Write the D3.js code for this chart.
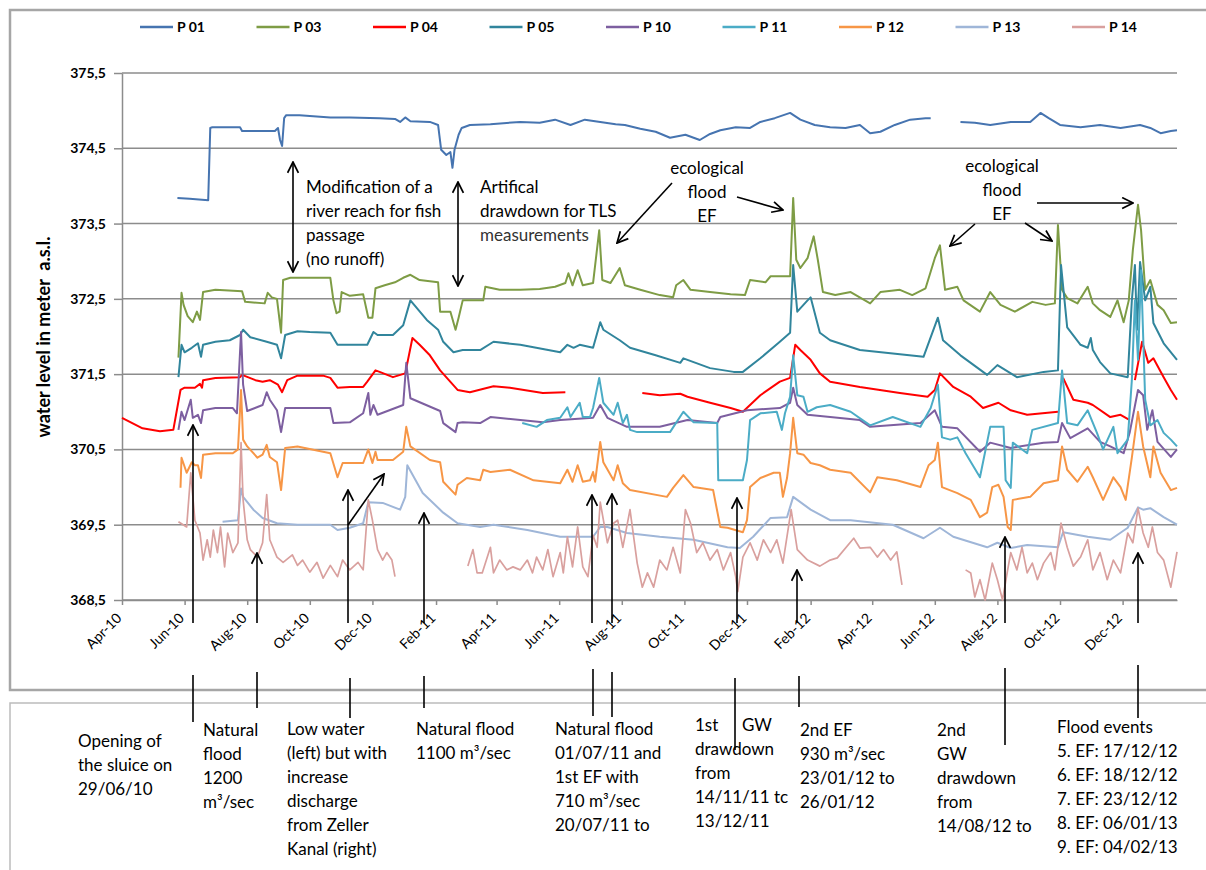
<!DOCTYPE html>
<html lang="en">
<head>
<meta charset="utf-8">
<title>Water level P 01 - P 14</title>
<script src="https://cdnjs.cloudflare.com/ajax/libs/d3/7.8.5/d3.min.js"></script>
<style>
  body { margin: 0; background: #fff; }
  svg { display: block; font-family: Lato, "Open Sans", sans-serif; }
</style>
</head>
<body>
<svg id="chart"></svg>
<script>

// ---- data: [days since 1 Apr 2010, water level m a.s.l.], null = no record
var P01 = [[54,373.84],[66,373.83],[84,373.81],[86,374.77],[88,374.78],[115,374.78],[117,374.73],[149,374.73],[152,374.77],[154,374.61],[156,374.53],[158,374.90],[160,374.94],[173,374.94],[203,374.91],[222,374.91],[251,374.90],[266,374.89],[271,374.85],[276,374.91],[281,374.86],[300,374.85],[308,374.81],[311,374.48],[316,374.41],[320,374.45],[322,374.24],[324,374.48],[328,374.68],[331,374.77],[339,374.81],[359,374.82],[388,374.85],[407,374.84],[422,374.88],[437,374.81],[451,374.88],[466,374.85],[481,374.82],[490,374.81],[505,374.76],[520,374.72],[534,374.64],[549,374.68],[563,374.61],[573,374.69],[583,374.74],[598,374.78],[612,374.77],[622,374.85],[636,374.90],[651,374.97],[661,374.88],[675,374.81],[690,374.78],[705,374.77],[719,374.81],[729,374.70],[739,374.72],[753,374.81],[768,374.88],[783,374.90],[788,374.90],[800,null],[817,374.85],[831,374.84],[846,374.81],[866,374.85],[885,374.85],[895,374.97],[903,374.90],[914,374.81],[934,374.78],[953,374.81],[973,374.77],[992,374.81],[1002,374.77],[1012,374.70],[1022,374.73],[1028,374.74]];

var P03 = [[55,371.72],[58,372.58],[60,372.42],[64,372.27],[69,372.19],[73,372.33],[76,372.22],[79,372.59],[91,372.62],[117,372.60],[120,372.46],[139,372.44],[142,372.58],[146,372.52],[151,372.50],[155,372.05],[157,372.75],[164,372.78],[203,372.78],[206,372.48],[209,372.31],[212,372.33],[214,372.59],[222,372.54],[235,372.56],[240,372.25],[244,372.25],[247,372.64],[256,372.68],[266,372.72],[274,372.78],[281,372.82],[290,372.75],[308,372.72],[310,372.33],[320,372.33],[325,372.09],[328,372.25],[332,372.48],[352,372.48],[354,372.66],[368,372.62],[388,372.62],[407,372.63],[422,372.66],[432,372.71],[435,372.84],[439,372.68],[444,372.88],[449,372.68],[459,372.71],[465,373.41],[468,372.75],[476,372.71],[485,372.91],[490,372.68],[505,372.62],[524,372.55],[537,372.52],[540,372.68],[547,372.75],[554,372.62],[573,372.59],[593,372.56],[607,372.55],[612,372.75],[627,372.72],[632,372.80],[651,372.80],[654,373.84],[657,373.02],[661,372.91],[668,373.04],[674,373.33],[678,373.02],[683,372.59],[695,372.55],[710,372.59],[729,372.44],[739,372.59],[758,372.62],[770,372.55],[783,372.64],[792,373.04],[797,373.21],[802,372.62],[814,372.66],[820,372.48],[836,372.33],[846,372.59],[856,372.42],[870,372.33],[887,372.46],[900,372.42],[909,372.44],[912,373.48],[916,372.62],[921,372.51],[931,372.44],[941,372.66],[946,372.44],[953,372.35],[963,372.26],[970,372.48],[976,372.19],[981,372.48],[985,373.15],[990,373.75],[993,373.41],[997,372.62],[1002,372.75],[1009,372.42],[1015,372.35],[1022,372.18],[1028,372.19]];

var P04 = [[0,370.92],[20,370.78],[37,370.74],[50,370.76],[57,371.29],[61,371.32],[71,371.32],[76,371.37],[78,371.32],[79,371.42],[91,371.45],[115,371.46],[117,371.49],[130,371.42],[137,371.40],[144,371.42],[152,371.36],[156,371.26],[161,371.42],[171,371.48],[196,371.48],[203,371.45],[210,371.32],[222,371.33],[235,371.33],[239,371.40],[247,371.55],[251,371.53],[264,371.46],[276,371.51],[283,371.98],[290,371.89],[300,371.75],[310,371.55],[327,371.29],[339,371.26],[362,371.34],[378,371.32],[410,371.25],[432,371.26],[470,null],[507,371.25],[524,371.22],[544,371.24],[551,371.20],[573,371.12],[593,371.05],[605,371.00],[622,371.22],[641,371.40],[651,371.45],[656,371.89],[661,371.82],[671,371.69],[680,371.51],[690,371.40],[719,371.33],[758,371.25],[785,371.20],[792,371.29],[797,371.51],[810,371.33],[827,371.20],[839,371.05],[854,371.12],[866,371.02],[882,370.96],[912,371.00],[914,null],[917,371.45],[927,371.16],[941,371.12],[946,371.09],[963,370.93],[973,370.96],[982,370.89],[984,null],[987,371.42],[994,371.93],[1000,371.65],[1005,371.71],[1015,371.46],[1022,371.29],[1028,371.16]];

var P05 = [[55,371.46],[58,371.89],[61,371.79],[68,371.85],[74,371.91],[77,371.73],[79,371.89],[91,371.93],[105,371.95],[115,372.02],[118,372.09],[125,371.99],[141,371.93],[151,371.89],[155,371.71],[159,372.02],[171,372.07],[183,372.06],[203,372.05],[210,371.89],[222,371.89],[239,371.89],[245,372.06],[249,372.02],[264,372.02],[274,372.15],[281,372.48],[297,372.22],[308,372.09],[313,371.93],[323,371.79],[332,371.82],[349,371.82],[362,371.93],[388,371.89],[427,371.79],[434,371.89],[440,371.85],[446,371.89],[459,371.85],[466,372.19],[469,372.09],[485,371.95],[495,371.85],[520,371.75],[544,371.65],[547,371.71],[573,371.58],[596,371.53],[605,371.53],[622,371.71],[641,371.93],[651,372.05],[654,372.95],[658,372.33],[668,372.48],[671,372.52],[680,372.05],[690,371.95],[719,371.82],[781,371.73],[795,372.25],[800,371.95],[817,371.75],[843,371.49],[853,371.62],[872,371.46],[898,371.53],[912,371.55],[915,372.95],[921,372.12],[934,371.89],[941,371.85],[944,371.98],[946,371.82],[953,371.66],[963,371.51],[980,371.46],[984,372.48],[987,372.95],[989,372.09],[992,372.99],[997,372.48],[1002,372.66],[1005,372.18],[1015,371.91],[1028,371.69]];

var P10 = [[55,370.76],[58,371.00],[61,370.89],[67,371.16],[69,370.92],[74,370.96],[77,370.85],[79,371.02],[91,371.05],[108,371.05],[112,370.98],[116,372.06],[118,371.36],[122,371.01],[137,371.09],[141,371.26],[144,371.16],[151,371.02],[155,370.73],[159,371.05],[171,371.05],[203,371.05],[206,370.85],[222,370.86],[235,370.98],[240,371.25],[242,370.96],[245,371.09],[249,370.96],[274,371.09],[277,371.65],[281,371.18],[310,371.01],[313,370.85],[325,370.73],[327,370.85],[332,370.86],[349,370.85],[359,370.93],[410,370.86],[427,370.89],[459,370.92],[466,371.09],[473,370.92],[492,370.80],[524,370.80],[551,370.89],[580,370.85],[583,370.93],[609,371.02],[641,371.05],[651,371.12],[654,371.32],[658,371.09],[668,370.96],[690,370.93],[719,370.89],[729,370.80],[778,370.85],[792,371.02],[799,370.80],[814,370.78],[836,370.47],[846,370.59],[866,370.52],[898,370.59],[912,370.60],[916,370.85],[924,370.65],[941,370.78],[953,370.60],[963,370.54],[976,370.45],[982,370.73],[990,371.29],[995,371.22],[999,370.76],[1004,371.02],[1009,370.60],[1022,370.40],[1028,370.50]];

var P11 = [[390,370.85],[404,370.80],[414,370.89],[427,370.92],[434,371.06],[437,370.93],[446,371.12],[449,370.93],[456,370.93],[459,371.05],[465,371.45],[469,371.12],[479,370.96],[483,371.12],[488,370.85],[492,370.96],[495,370.76],[502,370.73],[534,370.73],[547,371.00],[557,370.86],[580,370.85],[581,370.09],[583,370.09],[605,370.09],[609,370.36],[612,370.89],[622,370.98],[638,371.00],[643,370.76],[646,370.98],[651,371.20],[654,371.75],[658,371.22],[664,371.20],[668,371.00],[677,371.06],[690,371.09],[710,371.00],[729,370.82],[751,370.93],[778,370.80],[788,371.05],[795,371.36],[799,370.66],[807,370.63],[814,370.66],[822,370.45],[836,370.13],[846,370.80],[859,370.80],[861,370.09],[866,369.99],[868,370.59],[882,370.45],[887,370.76],[912,370.85],[916,371.55],[921,370.85],[931,370.82],[941,371.02],[950,370.72],[956,370.50],[966,370.80],[970,370.45],[980,370.63],[984,371.42],[987,372.48],[990,371.69],[993,372.88],[997,371.16],[1002,370.82],[1009,370.89],[1015,370.72],[1022,370.63],[1028,370.54]];

var P12 = [[57,369.99],[58,370.39],[63,370.19],[68,370.33],[71,370.29],[74,370.29],[77,370.12],[79,370.43],[91,370.45],[108,370.45],[113,370.50],[116,371.29],[118,370.63],[122,370.54],[132,370.39],[137,370.43],[141,370.56],[144,370.40],[151,370.33],[155,369.96],[159,370.52],[171,370.54],[203,370.45],[210,370.13],[215,370.32],[235,370.32],[240,370.50],[244,370.32],[247,370.47],[249,370.36],[264,370.36],[274,370.47],[277,370.80],[281,370.54],[300,370.36],[310,370.33],[313,370.07],[325,369.90],[327,370.03],[336,370.12],[349,370.09],[352,370.23],[359,370.20],[378,370.23],[401,370.09],[427,370.05],[434,370.23],[439,370.07],[444,370.29],[449,370.07],[456,370.09],[459,370.20],[461,370.07],[466,370.60],[469,370.33],[479,370.09],[483,370.29],[488,370.05],[495,369.96],[531,369.87],[537,369.99],[547,370.16],[557,370.00],[576,369.96],[583,369.47],[590,369.46],[605,369.40],[609,369.56],[612,370.00],[622,370.12],[635,370.19],[641,370.19],[644,369.87],[648,370.12],[651,370.45],[654,370.92],[658,370.45],[664,370.43],[671,370.32],[680,370.29],[690,370.23],[710,370.19],[729,369.93],[736,370.13],[755,370.09],[778,370.00],[786,370.29],[792,370.36],[795,370.59],[799,370.00],[814,369.92],[827,369.83],[836,369.60],[843,369.66],[848,370.00],[854,370.03],[859,369.87],[863,369.47],[866,369.43],[868,369.83],[885,369.87],[898,370.05],[912,370.09],[916,370.54],[921,370.23],[931,370.07],[941,370.27],[946,370.13],[956,369.83],[966,370.13],[973,370.00],[978,369.83],[984,370.39],[990,371.00],[995,370.54],[1002,370.13],[1005,370.54],[1012,370.19],[1022,369.96],[1028,369.99]];

var P13 = [[98,369.54],[113,369.56],[116,369.98],[118,369.87],[128,369.70],[137,369.59],[151,369.52],[171,369.50],[203,369.50],[210,369.43],[222,369.46],[235,369.52],[240,369.80],[254,369.79],[271,369.70],[276,369.87],[278,370.29],[293,369.92],[313,369.66],[327,369.52],[349,369.47],[362,369.50],[395,369.43],[427,369.34],[459,369.34],[466,369.47],[473,369.47],[492,369.39],[524,369.34],[557,369.30],[590,369.20],[602,369.19],[615,369.34],[632,369.59],[648,369.60],[654,369.87],[671,369.70],[690,369.56],[710,369.56],[751,369.50],[781,369.32],[797,369.46],[810,369.34],[843,369.20],[853,369.26],[866,369.19],[882,369.23],[912,369.20],[917,369.40],[941,369.34],[963,369.30],[980,369.46],[990,369.73],[995,369.70],[1002,369.72],[1015,369.60],[1028,369.50]];

var P14 = [[55,369.54],[63,369.47],[67,370.19],[71,369.56],[76,369.39],[79,369.03],[83,369.30],[86,369.07],[89,369.43],[93,369.13],[96,369.47],[100,368.94],[103,369.39],[108,369.13],[113,369.26],[116,370.59],[118,369.83],[122,369.30],[125,369.17],[132,369.07],[137,369.26],[141,369.90],[144,369.30],[151,369.07],[157,369.00],[166,369.10],[171,368.96],[176,369.03],[183,368.87],[190,369.00],[196,368.79],[203,368.96],[210,368.81],[215,369.03],[222,368.90],[230,369.00],[235,368.90],[240,369.83],[244,369.56],[249,369.17],[254,369.03],[258,369.13],[263,369.03],[266,368.81],[300,null],[337,368.95],[342,369.17],[346,368.86],[351,368.86],[359,369.20],[362,368.86],[368,369.03],[375,368.90],[381,368.94],[388,368.90],[395,369.03],[400,368.86],[404,369.07],[410,368.90],[415,369.17],[420,368.81],[427,369.13],[430,368.86],[434,369.34],[439,368.94],[444,369.47],[449,368.94],[454,368.81],[459,369.36],[463,369.20],[466,369.80],[473,369.26],[479,369.52],[483,369.56],[488,369.20],[495,369.70],[502,368.99],[507,368.67],[512,368.86],[518,368.67],[524,369.03],[531,368.90],[537,369.20],[544,368.86],[549,369.70],[554,369.52],[560,369.13],[566,369.26],[573,369.03],[580,369.17],[586,368.90],[593,369.13],[598,368.81],[600,368.61],[605,369.07],[612,369.26],[619,369.03],[625,369.30],[632,369.13],[638,369.30],[644,368.99],[652,369.70],[658,369.17],[668,369.03],[680,368.95],[690,369.03],[697,369.06],[713,369.32],[719,369.19],[729,369.20],[736,369.07],[742,369.17],[749,369.03],[755,369.14],[760,368.70],[790,null],[822,368.90],[827,368.86],[831,368.54],[836,368.77],[841,368.50],[848,368.99],[853,368.77],[858,368.50],[863,368.90],[866,369.13],[872,368.90],[877,369.20],[882,368.86],[887,368.99],[892,368.77],[898,368.99],[905,369.13],[909,368.90],[915,369.52],[921,369.20],[927,368.95],[934,369.07],[941,369.30],[946,368.90],[953,369.13],[960,368.77],[966,369.03],[973,368.86],[980,369.39],[985,369.26],[990,369.72],[995,369.39],[1000,369.20],[1004,369.47],[1009,369.13],[1015,369.03],[1022,368.67],[1028,369.14]];

var SERIES_NAMES = ["P 01", "P 03", "P 04", "P 05", "P 10", "P 11", "P 12", "P 13", "P 14"];
var SERIES_DATA = [P01, P03, P04, P05, P10, P11, P12, P13, P14];
var COLORS = ["#4674b0", "#7e9c45", "#ff0000", "#31859c", "#7d5fa0", "#4bacc6", "#f79646", "#9fb6d8", "#d9a09e"];
var Y_TICKS = [368.5, 369.5, 370.5, 371.5, 372.5, 373.5, 374.5, 375.5];
var END_DAY = 1028;

// annotation texts
var NOTE_FISH = ["Modification of a", "river reach for fish", "passage", "(no runoff)"];
var NOTE_TLS = ["Artifical", "drawdown for TLS", "measurements"];
var NOTE_EF = ["ecological", "flood", "EF"];
var BOTTOM_NOTES = [
  ["Opening of", "the sluice on", "29/06/10"],
  ["Natural", "flood", "1200", "m³/sec"],
  ["Low water", "(left) but with", "increase", "discharge", "from Zeller", "Kanal (right)"],
  ["Natural flood", "1100 m³/sec"],
  ["Natural flood", "01/07/11 and", "1st EF with", "710 m³/sec", "20/07/11 to"],
  ["1st", "drawdown", "from", "14/11/11 tc", "13/12/11"],
  ["2nd EF", "930 m³/sec", "23/01/12 to", "26/01/12"],
  ["2nd", "GW", "drawdown", "from", "14/08/12 to"],
  ["Flood events", "5. EF: 17/12/12", "6. EF: 18/12/12", "7. EF: 23/12/12", "8. EF: 06/01/13", "9. EF: 04/02/13"]
];

// ---- layout
var width = 1206, height = 870;
var plotL = 122, plotR = 1177, plotT = 73, plotB = 600;
var START = new Date(2010, 3, 1);
function toDate(day) { return d3.timeDay.offset(START, day); }

var svg = d3.select("#chart").attr("width", width).attr("height", height);

var x = d3.scaleTime().domain([START, toDate(END_DAY)]).range([plotL, plotR]);
var y = d3.scaleLinear().domain([368.5, 375.5]).range([plotB, plotT]);

// frames
svg.append("rect").attr("x", 10).attr("y", 10).attr("width", 1210).attr("height", 680)
  .attr("fill", "none").attr("stroke", "#a6a6a6").attr("stroke-width", 2.5);
svg.append("path").attr("d", "M10,870 V703 H1206")
  .attr("fill", "none").attr("stroke", "#bcbcbc").attr("stroke-width", 1.5);

// gridlines
svg.append("g").selectAll("line").data(Y_TICKS).enter().append("line")
  .attr("x1", plotL).attr("x2", plotR)
  .attr("y1", function(d) { return y(d); }).attr("y2", function(d) { return y(d); })
  .attr("stroke", "#8c8c8c").attr("stroke-width", 1.5);

// y axis
var yAxis = svg.append("g").attr("transform", "translate(" + plotL + ",0)")
  .call(d3.axisLeft(y).tickValues(Y_TICKS).tickSize(8).tickSizeOuter(0)
    .tickFormat(function(d) { return d3.format(".1f")(d).replace(".", ","); }));
yAxis.selectAll("path, line").attr("stroke", "#8c8c8c").attr("stroke-width", 1.5);
yAxis.selectAll("text").attr("font-size", 14).attr("font-weight", "bold").attr("fill", "#000")
  .attr("font-family", "Lato, sans-serif").attr("dx", -5);

// x axis
var xTicks = d3.timeMonth.range(START, toDate(END_DAY), 2);
var xAxis = svg.append("g").attr("transform", "translate(0," + plotB + ")")
  .call(d3.axisBottom(x).tickValues(xTicks).tickSize(5).tickSizeOuter(0)
    .tickFormat(d3.timeFormat("%b-%y")));
xAxis.selectAll("path, line").attr("stroke", "#8c8c8c").attr("stroke-width", 1.5);
xAxis.selectAll("text").attr("font-size", 14).attr("fill", "#000")
  .attr("font-family", "Lato, sans-serif")
  .attr("text-anchor", "end").attr("dy", 0).attr("y", 0)
  .attr("transform", "translate(0,19) rotate(-45)");

// y title
svg.append("text")
  .attr("transform", "translate(50,337) rotate(-90)")
  .attr("text-anchor", "middle").attr("font-size", 18).attr("font-weight", "bold")
  .attr("xml:space", "preserve")
  .text("water level in meter  a.s.l.");

// series
var line = d3.line()
  .defined(function(d) { return d[1] !== null; })
  .x(function(d) { return x(toDate(d[0])); })
  .y(function(d) { return y(d[1]); });

svg.append("g").selectAll("path").data(SERIES_DATA).enter().append("path")
  .attr("d", line)
  .attr("fill", "none")
  .attr("stroke", function(d, i) { return COLORS[i]; })
  .attr("stroke-width", function(d, i) { return i === 8 ? 1.7 : 2; })
  .attr("stroke-linejoin", "round");

// legend
var legend = svg.append("g").selectAll("g").data(SERIES_NAMES).enter().append("g")
  .attr("transform", function(d, i) { return "translate(" + (140 + i * 116.5) + ",27)"; });
legend.append("line").attr("x1", 0).attr("x2", 33)
  .attr("stroke", function(d, i) { return COLORS[i]; }).attr("stroke-width", 2.5);
legend.append("text").attr("x", 37).attr("y", 5).attr("font-size", 14).attr("font-weight", "bold")
  .text(function(d) { return d; });

// arrows
var defs = svg.append("defs");
defs.append("marker").attr("id", "head")
  .attr("viewBox", "0 0 12 12").attr("refX", 11).attr("refY", 6)
  .attr("markerWidth", 13).attr("markerHeight", 13).attr("markerUnits", "userSpaceOnUse")
  .attr("orient", "auto-start-reverse")
  .append("path").attr("d", "M1,1 L11,6 L1,11").attr("fill", "none")
  .attr("stroke", "#000").attr("stroke-width", 1.6);

var notes = svg.append("g").attr("stroke", "#000").attr("stroke-width", 1.6);
function arrow(x1, y1, x2, y2, both) {
  var l = notes.append("line").attr("x1", x1).attr("y1", y1).attr("x2", x2).attr("y2", y2)
    .attr("marker-end", "url(#head)");
  if (both) l.attr("marker-start", "url(#head)");
}
arrow(293, 162, 293, 272, true);
arrow(458, 182, 458, 286, true);
arrow(672, 183, 617, 243);
arrow(737, 197, 783, 210);
arrow(975, 224, 950, 246);
arrow(1025, 223, 1052, 241);
arrow(1037, 203, 1133, 203);

var upArrows = [[193, 425], [257, 553], [348, 490], [424, 513], [592, 495], [612, 494], [737, 498], [797, 570], [1005, 537], [1138, 553]];
upArrows.forEach(function(a) { arrow(a[0], 623, a[0], a[1]); });
arrow(348, 525, 384, 474);

var connectors = [[193, 675, 722], [257, 672, 708], [350, 678, 718], [424, 676, 708], [593, 669, 716], [612, 672, 717], [735, 678, 750], [799, 676, 707], [1005, 668, 745], [1138, 665, 718]];
connectors.forEach(function(c) {
  notes.append("line").attr("x1", c[0]).attr("x2", c[0]).attr("y1", c[1]).attr("y2", c[2]);
});

// text blocks
function block(lines, x0, y0, lh, anchor) {
  var t = svg.append("text").attr("font-size", 17).attr("fill", "#000")
    .attr("text-anchor", anchor || "start");
  lines.forEach(function(s, i) {
    t.append("tspan").attr("x", x0).attr("y", y0 + i * lh).text(s);
  });
  return t;
}
block(NOTE_FISH, 306, 193, 24);
var tls = block(NOTE_TLS, 480, 193, 24);
tls.selectAll("tspan").filter(function(d, i) { return i === 2; }).attr("fill", "#333");
block(NOTE_EF, 707, 174, 24, "middle");
block(NOTE_EF, 1002, 172, 24, "middle");

var colX = [78, 203, 287, 416, 555, 695, 800, 937, 1057];
var colY = [747, 736, 735, 735, 735, 731, 736, 736, 733];
BOTTOM_NOTES.forEach(function(lines, i) { block(lines, colX[i], colY[i], 24); });
block(["GW"], 742, 731, 24);

</script>
</body>
</html>
